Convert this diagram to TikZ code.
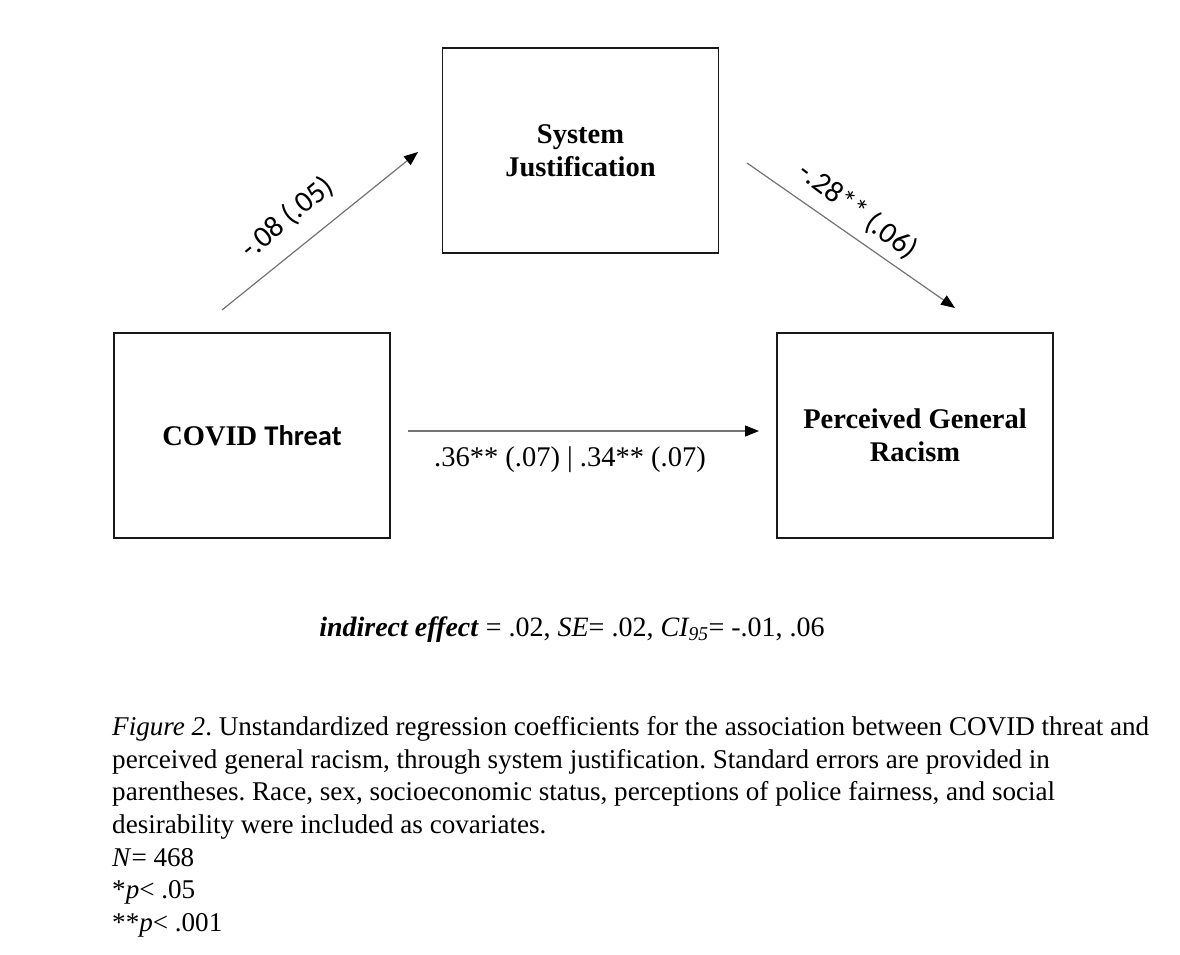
\documentclass[tikz,border=0pt]{standalone}
\usepackage{fontspec}
\setmainfont{Liberation Serif}
\newfontfamily\labelfont{Carlito}
\usetikzlibrary{arrows.meta}
\frenchspacing

\begin{document}
\begin{tikzpicture}[x=1pt,y=-1pt,
  box/.style={draw=black!90, line width=1.8pt, minimum width=276pt,
    minimum height=205pt, inner sep=0pt, align=center,
    font=\fontsize{28.5}{33}\selectfont\bfseries},
  effect/.style={draw=black!55, line width=1.2pt,
    -{Triangle[length=14pt,width=11pt,fill=black,color=black]}},
  coef/.style={font=\labelfont\fontsize{30}{32}\selectfont, inner sep=0pt},
  note/.style={font=\fontsize{27.1}{32.6}\selectfont, inner sep=0pt},
]
\useasboundingbox[fill=white] (0,0) rectangle (1180,955);

% the three variables of the mediation model
\node[box] (cov) at (252,435.5) {COVID {\labelfont Threat}};
\node[box] (sj)  at (580.5,150.5) {System\\Justification};
\node[box] (pgr) at (915,435.5) {Perceived General\\Racism};

% free ends of the paths
\coordinate (a1) at (222,310);
\coordinate (a2) at (418,152);
\coordinate (b1) at (747,163);
\coordinate (b2) at (955,308);
\coordinate (c1) at (408,431);
\coordinate (c2) at (759,431);

\draw[effect] (a1) -- (a2);
\draw[effect] (b1) -- (b2);
\draw[effect] (c1) -- (c2);

% path coefficients
\node[coef, rotate=39.5] (la) at (287,218) {-.08 (.05)};
\node[coef, rotate=-37] (lb) at (858,211) {-.28** (.06)};
\node[font=\fontsize{28.5}{30}\selectfont, inner sep=0pt] (lc) at (570,460)
  {.36** (.07) | .34** (.07)};

% indirect effect
\node[font=\fontsize{28}{32}\selectfont, inner sep=0pt, anchor=base] (ind) at (572,636)
  {\textbf{\textit{indirect effect}} = .02, \textit{SE}= .02, \textit{CI\textsubscript{95}}= -.01, .06};

% figure note
\node[note, anchor=north west, align=left] (cap) at (112,716.5)
  {\textit{Figure 2}. Unstandardized regression coefficients for the association between COVID threat and\\
   perceived general racism, through system justification. Standard errors are provided in\\
   parentheses. Race, sex, socioeconomic status, perceptions of police fairness, and social\\
   desirability were included as covariates.\\
   \textit{N}= 468\\
   *\textit{p}< .05\\
   **\textit{p}< .001};
\end{tikzpicture}
\end{document}
